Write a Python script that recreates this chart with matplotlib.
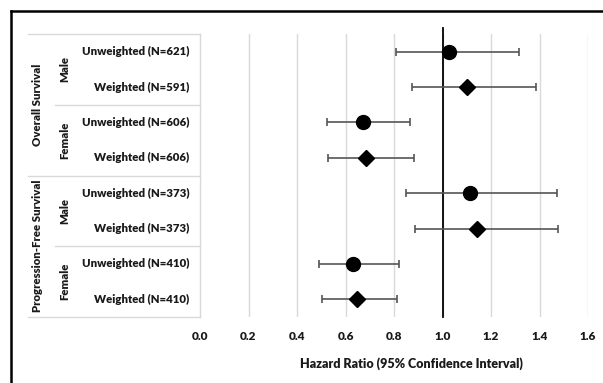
import matplotlib
matplotlib.use("Agg")
import matplotlib.pyplot as plt
import matplotlib.transforms as mtransforms
from matplotlib.lines import Line2D

# Data
row_labels = ["Unweighted (N=621)", "Weighted (N=591)",
              "Unweighted (N=606)", "Weighted (N=606)",
              "Unweighted (N=373)", "Weighted (N=373)",
              "Unweighted (N=410)", "Weighted (N=410)"]
hr = [1.027, 1.10, 0.674, 0.683, 1.113, 1.144, 0.630, 0.646]
ci_low = [0.807, 0.874, 0.522, 0.529, 0.848, 0.887, 0.491, 0.505]
ci_high = [1.315, 1.384, 0.866, 0.882, 1.471, 1.475, 0.821, 0.811]
markers = ["o", "D", "o", "D", "o", "D", "o", "D"]
sex_labels = ["Male", "Female", "Male", "Female"]
outcome_labels = ["Overall Survival", "Progression-Free Survival"]
xticks = [0.0, 0.2, 0.4, 0.6, 0.8, 1.0, 1.2, 1.4, 1.6]

plt.rcParams["font.family"] = ["Lato", "DejaVu Sans"]
txt = "#1a1a1a"
grid_c = "#d9d9d9"
fw = "heavy"

W, H = 603, 383
fig = plt.figure(figsize=(W / 100, H / 100), dpi=100)
ax = fig.add_axes([200 / W, 1 - 317 / H, 388 / W, 283 / H])

n = len(hr)
ys = [i + 0.5 for i in range(n)]
for y, h, lo, hi, m in zip(ys, hr, ci_low, ci_high, markers):
    ax.errorbar(h, y, xerr=[[h - lo], [hi - h]], fmt="none", ecolor="#555555",
                elinewidth=1.2, capsize=3, capthick=1.2, zorder=3)
    ax.plot(h, y, marker=m, color="black", markersize=10 if m == "o" else 8.5,
            linestyle="none", zorder=4)

ax.set_xlim(0, 1.6)
ax.set_ylim(n, 0)
ax.set_xticks(xticks)
ax.set_xticklabels(["{:.1f}".format(t) for t in xticks], color=txt,
                   fontsize=8.5, fontweight=fw)
ax.set_yticks([])
ax.tick_params(axis="x", length=0, pad=10)
for x in xticks[1:]:
    ax.axvline(x, color=grid_c, linewidth=1, zorder=1)
ax.axvline(1.0, ymin=0, ymax=1.021, color="black", linewidth=1.3,
           zorder=2, clip_on=False)
for s in ax.spines.values():
    s.set_visible(False)
ax.set_xlabel("Hazard Ratio (95% Confidence Interval)", fontsize=9,
              fontweight=fw, color=txt)
ax.xaxis.set_label_coords(0.546, -0.163)
ax.xaxis.label.set_va("center")

# Table on the left
tr = mtransforms.blended_transform_factory(ax.transAxes, ax.transData)
x_out, x_sex, x_end = -0.443, -0.374, 0.0
for y in [0, 4, 8]:
    ax.add_line(Line2D([x_out, x_end], [y, y], transform=tr, color=grid_c,
                       linewidth=1, clip_on=False))
for y in [2, 6]:
    ax.add_line(Line2D([x_sex, x_end], [y, y], transform=tr, color=grid_c,
                       linewidth=1, clip_on=False))
ax.add_line(Line2D([0, 0], [0, n], transform=tr, color=grid_c,
                   linewidth=1, clip_on=False))

for y, lab in zip(ys, row_labels):
    ax.text(-0.028, y, lab, transform=tr, ha="right", va="center",
            fontsize=8.2, fontweight=fw, color=txt)
for i, lab in enumerate(sex_labels):
    ax.text(-0.348, 2 * i + 1, lab, transform=tr, ha="center", va="center",
            rotation=90, fontsize=8.2, fontweight=fw, color=txt)
for i, lab in enumerate(outcome_labels):
    ax.text(-0.418, 4 * i + 2, lab, transform=tr, ha="center", va="center",
            rotation=90, fontsize=8.2, fontweight=fw, color=txt)

# Outer frame (top and left edges)
fig.add_artist(Line2D([11 / W, 1], [1 - 11 / H, 1 - 11 / H],
                      transform=fig.transFigure, color="black", linewidth=1.8))
fig.add_artist(Line2D([11 / W, 11 / W], [0, 1 - 11 / H],
                      transform=fig.transFigure, color="black", linewidth=1.8))

fig.savefig("out.png", dpi=100)
